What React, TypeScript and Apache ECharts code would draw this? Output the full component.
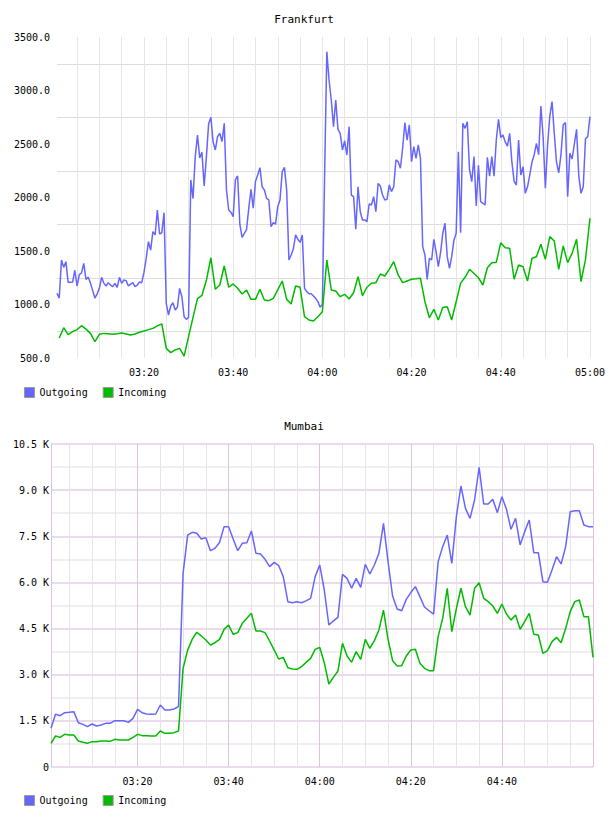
import React, { useEffect, useRef } from 'react';
import * as echarts from 'echarts';

// Time is in minutes after 03:00.
const frankfurtOutgoingStart = 0.5;
const frankfurtOutgoingStep = 0.5;
const frankfurtOutgoing = [
  1105, 1060, 1416, 1347, 1400, 1207, 1207, 1210, 1320, 1173,
  1280, 1295, 1385, 1235, 1255, 1200, 1130, 1060, 1100, 1151,
  1254, 1200, 1173, 1204, 1182, 1167, 1198, 1160, 1254, 1198,
  1229, 1223, 1173, 1190, 1204, 1167, 1182, 1210, 1204, 1300,
  1431, 1587, 1509, 1681, 1650, 1883, 1659, 1671, 1858, 1011,
  902, 986, 1017, 949, 975, 1151, 1073, 886, 861, 880,
  2164, 1990, 2382, 2584, 2370, 2422, 2108, 2382, 2690, 2750,
  2520, 2444, 2568, 2600, 2522, 2693, 2070, 1883, 1862, 1821,
  2164, 2201, 1750, 1628, 1665, 1700, 1900, 2076, 1900, 2150,
  2210, 2279, 2100, 2070, 1992, 1977, 1727, 1765, 1752, 1914,
  1977, 2242, 2282, 2070, 1416, 1463, 1520, 1650, 1610, 1580,
  1650, 1151, 1120, 1100, 1100, 1080, 1058, 1027, 975, 1000,
  2200, 3363, 3098, 2911, 2662, 2911, 2637, 2600, 2444, 2530,
  2397, 2662, 2023, 2008, 1703, 2101, 1867, 1790, 1790, 1775,
  1940, 1930, 2008, 1867, 2132, 2107, 2023, 1977, 1983, 2117,
  2055, 2101, 2351, 2335, 2273, 2460, 2699, 2537, 2678, 2335,
  2475, 2366, 2491, 2366, 1541, 1463, 1235, 1431, 1416, 1609,
  1494, 1354, 1484, 1665, 1759, 1447, 1338, 1447, 1600, 1665,
  2428, 1671, 2693, 2646, 2709, 2260, 2148, 2382, 1921, 2300,
  1961, 1946, 1930, 2375, 2200, 2382, 2200, 2537, 2731, 2560,
  2584, 2520, 2480, 2600, 2330, 2150, 2117, 2537, 2210, 2288,
  2039, 2100, 2210, 2330, 2400, 2506, 2400, 2855, 2568, 2086,
  2491, 2760, 2896, 2600, 2330, 2230, 2400, 2680, 2700, 2008,
  2413, 2360, 2500, 2637, 2200, 2039, 2100, 2550, 2568, 2756,
];

const frankfurtIncomingStart = 1;
const frankfurtIncomingStep = 1;
const frankfurtIncoming = [
  687, 783, 718, 746, 765, 802, 770, 730, 653, 721,
  730, 727, 721, 726, 734, 725, 715, 725, 740, 752,
  765, 777, 800, 818, 590, 550, 575, 590, 518, 700,
  880, 1055, 1086, 1226, 1437, 1142, 1182, 1360, 1161, 1192,
  1152, 1098, 1136, 1048, 1048, 1142, 1042, 1036, 1058, 1136,
  1220, 1048, 1005, 1173, 1161, 886, 855, 846, 886, 933,
  1416, 1136, 1126, 1073, 1095, 1051, 1110, 1260, 1082, 1161,
  1198, 1204, 1285, 1266, 1329, 1400, 1276, 1204, 1220, 1236,
  1240, 1245, 1026, 876, 955, 855, 973, 980, 855, 1026,
  1200, 1254, 1329, 1290, 1250, 1182, 1344, 1391, 1394, 1578,
  1531, 1525, 1236, 1369, 1353, 1220, 1432, 1447, 1563, 1422,
  1634, 1594, 1329, 1547, 1391, 1478, 1609, 1214, 1420, 1806,
];

const mumbaiStart = 1;
const mumbaiStep = 1;
const mumbaiOutgoing = [
  1257, 1712, 1669, 1766, 1777, 1799, 1441, 1387, 1311, 1398,
  1333, 1365, 1419, 1419, 1506, 1506, 1506, 1452, 1582, 1875,
  1766, 1723, 1712, 1723, 2015, 1853, 1853, 1885, 1961, 6296,
  7540, 7630, 7597, 7410, 7456, 7033, 7109, 7300, 7813, 7813,
  7410, 7033, 7270, 7293, 7672, 6946, 6925, 6751, 6513, 6653,
  6545, 6188, 5375, 5342, 5375, 5340, 5400, 5483, 6188, 6567,
  5754, 4616, 4750, 4866, 6260, 6130, 5810, 6130, 5840, 6590,
  6275, 6567, 6946, 7920, 6676, 5559, 5137, 5080, 5450, 5670,
  5863, 5537, 5200, 5080, 4970, 6676, 7163, 7540, 6620, 8138,
  9135, 8409, 8084, 8680, 9742, 8550, 8550, 8702, 8268, 8788,
  8377, 7727, 8084, 7217, 7651, 8030, 6968, 6968, 6025, 6004,
  6405, 6838, 6600, 7163, 8300, 8333, 8333, 7867, 7813, 7813,
];
const mumbaiIncoming = [
  770, 1008, 964, 1062, 1040, 1040, 845, 802, 769, 824,
  824, 845, 845, 834, 899, 878, 878, 878, 964, 1062,
  1019, 1019, 1008, 1008, 1170, 1094, 1094, 1116, 1170, 3207,
  3800, 4150, 4380, 4260, 4130, 3966, 4040, 4150, 4475, 4616,
  4313, 4367, 4670, 4833, 4996, 4420, 4420, 4367, 4096, 3800,
  3510, 3565, 3229, 3186, 3175, 3260, 3400, 3533, 3825, 3890,
  3390, 2698, 2915, 3120, 4020, 3608, 3403, 3750, 3500, 4150,
  3858, 4107, 4454, 5100, 4150, 3457, 3283, 3294, 3608, 3803,
  3825, 3370, 3207, 3132, 3132, 4237, 4833, 5810, 4400, 5150,
  5810, 5210, 4940, 5810, 5990, 5483, 5375, 5234, 4996, 5299,
  4974, 4779, 4941, 4475, 4725, 4996, 4313, 4291, 3695, 3782,
  4075, 4215, 4042, 4508, 5050, 5375, 5430, 4887, 4887, 3565,
];

const timeTickValues = [20, 40, 60, 80, 100, 120];
const frankfurtTimeLabels = ['03:20', '03:40', '04:00', '04:20', '04:40', '05:00'];
const mumbaiTimeLabels = ['03:20', '03:40', '04:00', '04:20', '04:40', ''];
const seriesNames = ['Outgoing', 'Incoming'];
const titles = ['Frankfurt', 'Mumbai'];

const toPairs = (start: number, step: number, vals: number[]) =>
  vals.map((v, i) => [start + i * step, v]);

const timeFormatter = (labels: string[]) => (v: number) => {
  const r = Math.round(v);
  if (Math.abs(v - r) > 1e-6) return '';
  const i = timeTickValues.indexOf(r);
  return i >= 0 ? labels[i] : '';
};

const MONO = 'DejaVu Sans Mono';
const BLUE = '#6666ff';
const GREEN = '#00bb00';

export default function App() {
  const ref = useRef<HTMLDivElement>(null);
  useEffect(() => {
    document.body.style.margin = '0';
    if (!ref.current) return;
    const chart = echarts.init(ref.current, undefined, { renderer: 'svg' });
    const titleStyle = { fontSize: 11, fontWeight: 'normal' as const, color: '#000', fontFamily: MONO };
    const legendBase = {
      left: 24,
      padding: 0,
      itemWidth: 10,
      itemHeight: 10,
      itemGap: 15,
      icon: 'rect',
      data: seriesNames,
      textStyle: { fontSize: 10, color: '#000', fontFamily: MONO },
      itemStyle: { borderColor: '#999', borderWidth: 1 },
      selectedMode: false,
    };
    const labelStyle = { fontSize: 10, color: '#000', fontFamily: MONO };
    chart.setOption({
      animation: false,
      textStyle: { fontFamily: MONO },
      title: [
        { text: titles[0], left: 'center', top: 14, padding: 0, textStyle: titleStyle },
        { text: titles[1], left: 'center', top: 421, padding: 0, textStyle: titleStyle },
      ],
      legend: [
        { ...legendBase, top: 387 },
        { ...legendBase, top: 795 },
      ],
      grid: [
        { left: 57, right: 17, top: 37, bottom: 458 },
        { left: 51, right: 15, top: 444, bottom: 49 },
      ],
      xAxis: [
        {
          type: 'value', gridIndex: 0, min: 0.5, max: 120, splitNumber: 24,
          axisLine: { show: false }, axisTick: { show: false },
          axisLabel: { ...labelStyle, margin: 9, formatter: timeFormatter(frankfurtTimeLabels) },
          splitLine: { show: true, showMinLine: false, lineStyle: { color: '#e6e6e6', width: 1 } },
        },
        {
          type: 'value', gridIndex: 1, min: 1, max: 120, splitNumber: 24,
          axisLine: { show: false }, axisTick: { show: false },
          axisLabel: { ...labelStyle, margin: 9, formatter: timeFormatter(mumbaiTimeLabels) },
          splitLine: {
            show: true,
            lineStyle: { color: ['#dcc4dc', '#e9e2e9', '#e9e2e9', '#e9e2e9'], width: 1 },
          },
        },
      ],
      yAxis: [
        {
          type: 'value', gridIndex: 0, min: 500, max: 3500, interval: 500,
          axisLine: { show: false }, axisTick: { show: false },
          axisLabel: { ...labelStyle, margin: 7, formatter: (v: number) => v.toFixed(1) },
          splitLine: { show: false },
          minorTick: { show: false, splitNumber: 2 },
          minorSplitLine: { show: true, lineStyle: { color: '#dddddd', width: 1 } },
        },
        {
          type: 'value', gridIndex: 1, min: 0, max: 10500, interval: 1500,
          axisLine: { show: false }, axisTick: { show: false },
          axisLabel: {
            ...labelStyle, margin: 2,
            formatter: (v: number) => (v === 0 ? '0' : (v / 1000).toFixed(1) + ' K'),
          },
          splitLine: { show: true, lineStyle: { color: '#ebdaeb', width: 2 } },
          minorTick: { show: false, splitNumber: 2 },
          minorSplitLine: { show: true, lineStyle: { color: '#f1eef1', width: 2 } },
        },
      ],
      series: [
        {
          type: 'line', name: seriesNames[0], xAxisIndex: 0, yAxisIndex: 0,
          data: toPairs(frankfurtOutgoingStart, frankfurtOutgoingStep, frankfurtOutgoing),
          showSymbol: false, symbol: 'none', color: BLUE, lineStyle: { width: 1.5, color: BLUE }, silent: true,
        },
        {
          type: 'line', name: seriesNames[1], xAxisIndex: 0, yAxisIndex: 0,
          data: toPairs(frankfurtIncomingStart, frankfurtIncomingStep, frankfurtIncoming),
          showSymbol: false, symbol: 'none', color: GREEN, lineStyle: { width: 1.5, color: GREEN }, silent: true,
        },
        {
          type: 'line', name: seriesNames[0], xAxisIndex: 1, yAxisIndex: 1,
          data: toPairs(mumbaiStart, mumbaiStep, mumbaiOutgoing),
          showSymbol: false, symbol: 'none', color: BLUE, lineStyle: { width: 1.5, color: BLUE }, silent: true,
        },
        {
          type: 'line', name: seriesNames[1], xAxisIndex: 1, yAxisIndex: 1,
          data: toPairs(mumbaiStart, mumbaiStep, mumbaiIncoming),
          showSymbol: false, symbol: 'none', color: GREEN, lineStyle: { width: 1.5, color: GREEN }, silent: true,
        },
      ],
    });
    return () => chart.dispose();
  }, []);
  return <div ref={ref} style={{ width: 608, height: 816 }} />;
}
